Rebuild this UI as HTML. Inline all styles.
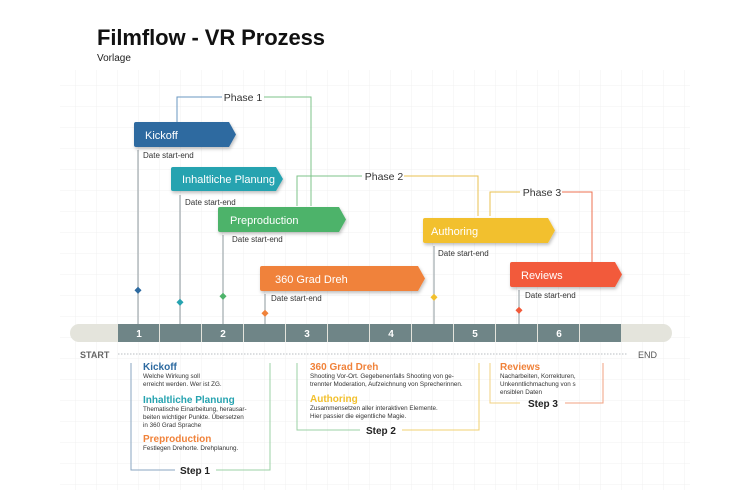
<!DOCTYPE html>
<html><head><meta charset="utf-8"><style>
body{margin:0;width:736px;height:500px;overflow:hidden;background:#fff;font-family:"Liberation Sans",sans-serif}
svg{position:absolute;left:0;top:0}
text{font-family:"Liberation Sans",sans-serif}
</style></head><body>
<svg width="736" height="500" viewBox="0 0 736 500">
<defs>
<pattern id="g" width="21" height="21" patternUnits="userSpaceOnUse" x="13" y="2">
<path d="M21 0V21H0" fill="none" stroke="#f0f0f0" stroke-width="1"/></pattern>
<filter id="sh" x="-10%" y="-20%" width="130%" height="160%"><feDropShadow dx="1" dy="2" stdDeviation="1.5" flood-opacity="0.25"/></filter>
</defs>
<rect x="60" y="70" width="630" height="420" fill="url(#g)"/>
<text x="97" y="45" font-size="22" font-weight="bold" fill="#111" textLength="228">Filmflow - VR Prozess</text>
<text x="97" y="61" font-size="10" fill="#222">Vorlage</text>

<g fill="none" stroke-width="1">
<path d="M177 122V97H222" stroke="#6a97c0"/><path d="M264 97H311V206" stroke="#7cc38a"/>
<text x="243" y="101" font-size="10.5" fill="#333" text-anchor="middle" stroke="none">Phase 1</text>
<path d="M297 206V176H362" stroke="#7cc38a"/><path d="M404 176H478V216" stroke="#e8c050"/>
<text x="384" y="180" font-size="10.5" fill="#333" text-anchor="middle" stroke="none">Phase 2</text>
<path d="M490 216V192H520" stroke="#e8c050"/><path d="M562 192H592V262" stroke="#ec7050"/>
<text x="542" y="196" font-size="10.5" fill="#333" text-anchor="middle" stroke="none">Phase 3</text>
</g>

<g stroke="#a8b0b4" stroke-width="1.3">
<line x1="138" y1="150" x2="138" y2="324"/><line x1="180" y1="195" x2="180" y2="324"/>
<line x1="223" y1="235" x2="223" y2="324"/><line x1="265" y1="294" x2="265" y2="324"/>
<line x1="434" y1="246" x2="434" y2="324"/><line x1="519" y1="290" x2="519" y2="324"/>
</g>
<g>
<rect x="135" y="288" width="5" height="5" transform="rotate(45 138 291)" fill="#2d6aa0"/>
<rect x="177" y="300" width="5" height="5" transform="rotate(45 180 303)" fill="#26a3b0"/>
<rect x="220" y="294" width="5" height="5" transform="rotate(45 223 297)" fill="#4db36a"/>
<rect x="262" y="311" width="5" height="5" transform="rotate(45 265 314)" fill="#f0823a"/>
<rect x="431" y="295" width="5" height="5" transform="rotate(45 434 298)" fill="#f2c02e"/>
<rect x="516" y="308" width="5" height="5" transform="rotate(45 519 311)" fill="#f25a3a"/>
</g>

<g filter="url(#sh)">
<path d="M136 122H229L236 134.5L229 147H136Q134 147 134 145V124Q134 122 136 122Z" fill="#2d6aa0"/>
<path d="M173 167H276L283 179L276 191H173Q171 191 171 189V169Q171 167 173 167Z" fill="#26a3b0"/>
<path d="M220 207H339L346 219.5L339 232H220Q218 232 218 230V209Q218 207 220 207Z" fill="#4db36a"/>
<path d="M262 266H418L425 278.5L418 291H262Q260 291 260 289V268Q260 266 262 266Z" fill="#f0823a"/>
<path d="M425 218H548L555 230.5L548 243H425Q423 243 423 241V220Q423 218 425 218Z" fill="#f2c02e"/>
<path d="M512 262H615L622 274.5L615 287H512Q510 287 510 285V264Q510 262 512 262Z" fill="#f25a3a"/>
</g>
<g fill="#fff" font-size="11">
<text x="145" y="139">Kickoff</text>
<text x="182" y="183">Inhaltliche Planung</text>
<text x="230" y="224">Preproduction</text>
<text x="275" y="283">360 Grad Dreh</text>
<text x="431" y="235">Authoring</text>
<text x="521" y="279">Reviews</text>
</g>
<g fill="#333" font-size="8">
<text x="143" y="158">Date start-end</text>
<text x="185" y="205">Date start-end</text>
<text x="232" y="242">Date start-end</text>
<text x="271" y="301">Date start-end</text>
<text x="438" y="256">Date start-end</text>
<text x="525" y="298">Date start-end</text>
</g>

<rect x="70" y="324" width="602" height="18" rx="9" fill="#e4e4dc"/>
<g fill="#6f8587">
<rect x="118" y="324" width="41" height="18"/><rect x="160" y="324" width="41" height="18"/>
<rect x="202" y="324" width="41" height="18"/><rect x="244" y="324" width="41" height="18"/>
<rect x="286" y="324" width="41" height="18"/><rect x="328" y="324" width="41" height="18"/>
<rect x="370" y="324" width="41" height="18"/><rect x="412" y="324" width="41" height="18"/>
<rect x="454" y="324" width="41" height="18"/><rect x="496" y="324" width="41" height="18"/>
<rect x="538" y="324" width="41" height="18"/><rect x="580" y="324" width="41" height="18"/>
</g>
<g fill="#fff" font-size="10" font-weight="bold" text-anchor="middle">
<text x="139" y="337">1</text><text x="223" y="337">2</text><text x="307" y="337">3</text>
<text x="391" y="337">4</text><text x="475" y="337">5</text><text x="559" y="337">6</text>
</g>
<text x="80" y="358" font-size="9" font-weight="bold" fill="#666">START</text>
<text x="638" y="358" font-size="9" fill="#555">END</text>
<line x1="118" y1="354" x2="628" y2="354" stroke="#b8bec2" stroke-dasharray="1.5 1.5"/>

<g fill="none" stroke-width="1">
<path d="M131 363V470H175" stroke="#8aa6c0"/><path d="M216 470H270V363" stroke="#9bd0a4"/>
<path d="M297 363V430H360" stroke="#9bd0a4"/><path d="M402 430H479V363" stroke="#f0d070"/>
<path d="M490 363V403H520" stroke="#f2d080"/><path d="M565 403H603V363" stroke="#f0a080"/>
</g>
<g font-size="10" font-weight="bold" fill="#222" text-anchor="middle">
<text x="195" y="474">Step 1</text><text x="381" y="434">Step 2</text><text x="543" y="407">Step 3</text>
</g>
<g font-size="10" font-weight="bold">
<text x="143" y="370" fill="#2d6aa0">Kickoff</text>
<text x="143" y="403" fill="#26a3b0">Inhaltliche Planung</text>
<text x="143" y="442" fill="#f0823a">Preproduction</text>
<text x="310" y="370" fill="#f0823a">360 Grad Dreh</text>
<text x="310" y="402" fill="#f2c02e">Authoring</text>
<text x="500" y="370" fill="#f0823a">Reviews</text>
</g>
<g font-size="6.3" fill="#333">
<text x="143" y="378">Welche Wirkung soll</text>
<text x="143" y="386">erreicht werden. Wer ist ZG.</text>
<text x="143" y="411">Thematische Einarbeitung, herausar-</text>
<text x="143" y="419">beiten wichtiger Punkte. Übersetzen</text>
<text x="143" y="427">in 360 Grad Sprache</text>
<text x="143" y="450">Festlegen Drehorte. Drehplanung.</text>
<text x="310" y="378">Shooting Vor-Ort. Gegebenenfalls Shooting von ge-</text>
<text x="310" y="386">trennter Moderation, Aufzeichnung von Sprecherinnen.</text>
<text x="310" y="410">Zusammensetzen aller interaktiven Elemente.</text>
<text x="310" y="418">Hier passier die eigentliche Magie.</text>
<text x="500" y="378">Nacharbeiten, Korrekturen,</text>
<text x="500" y="386">Unkenntlichmachung von s</text>
<text x="500" y="394">ensiblen Daten</text>
</g>
</svg>
</body></html>
